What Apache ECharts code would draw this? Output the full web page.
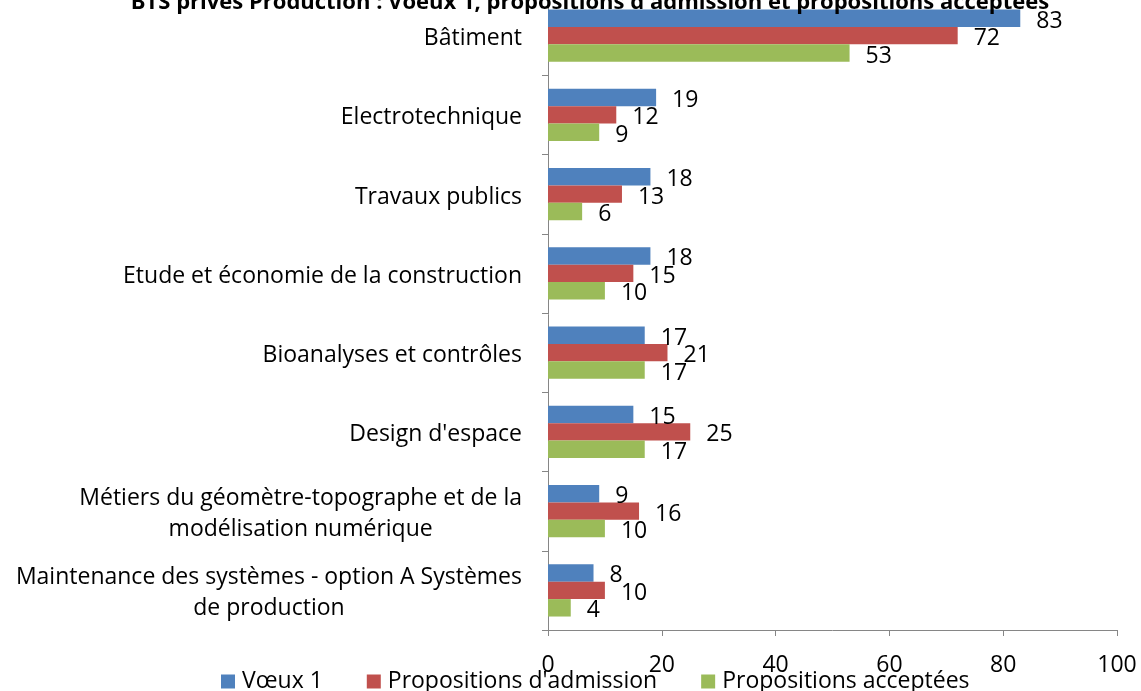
<!DOCTYPE html>
<html>
<head>
<meta charset="utf-8">
<script src="https://cdn.jsdelivr.net/npm/echarts@6/dist/echarts.min.js"></script>
<style>html,body{margin:0;padding:0;background:#fff;}#chart{width:1141px;height:691px;}</style>
</head>
<body>
<div id="chart"></div>
<script>
const titleText = "BTS privés Production : Voeux 1, propositions d'admission et propositions acceptées";
const categories = [
  "Bâtiment",
  "Electrotechnique",
  "Travaux publics",
  "Etude et économie de la construction",
  "Bioanalyses et contrôles",
  "Design d'espace",
  "Métiers du géomètre-topographe et de la\nmodélisation numérique",
  "Maintenance des systèmes - option A Systèmes\nde production"
];
const seriesNames = ["Vœux 1", "Propositions d'admission", "Propositions acceptées"];
const voeux1 = [83, 19, 18, 18, 17, 15, 9, 8];
const propositions = [72, 12, 13, 15, 21, 25, 16, 10];
const acceptees = [53, 9, 6, 10, 17, 17, 10, 4];
const xTicks = [0, 20, 40, 60, 80, 100];

const FONT = "Open Sans";
const FS = 23;
const colors = ["#4F81BD", "#C0504D", "#9BBB59"];
const dataSets = [voeux1, propositions, acceptees];

const chart = echarts.init(document.getElementById('chart'));
const labelStyle = {
  show: true, position: 'right', distance: 16, offset: [0, 3],
  color: '#000', fontFamily: FONT, fontSize: FS
};
chart.setOption({
  animation: false,
  backgroundColor: '#fff',
  title: {
    text: titleText, left: 585, top: -13, textAlign: 'center',
    textStyle: {fontFamily: FONT, fontWeight: 'bold', fontSize: 22, color: '#000'}
  },
  legend: {
    data: seriesNames, left: 216, top: 665, icon: 'rect',
    itemWidth: 14, itemHeight: 14, itemGap: 44,
    textStyle: {fontFamily: FONT, fontSize: FS, color: '#000', padding: [0, 0, 0, 2]}
  },
  grid: {left: 548, right: 24, top: -4, height: 634, containLabel: false, outerBoundsMode: 'none'},
  xAxis: {
    type: 'value', min: xTicks[0], max: xTicks[xTicks.length - 1], interval: 20,
    splitLine: {show: false},
    axisLine: {show: true, lineStyle: {color: '#868686', width: 1}},
    axisTick: {show: true, length: 6, lineStyle: {color: '#868686'}},
    axisLabel: {margin: 24, color: '#000', fontFamily: FONT, fontSize: FS}
  },
  yAxis: {
    type: 'category', data: categories, inverse: true,
    axisLine: {show: true, lineStyle: {color: '#868686', width: 1}},
    axisTick: {show: true, length: 6, lineStyle: {color: '#868686'}},
    axisLabel: {
      margin: 26, color: '#000', fontFamily: FONT, fontSize: FS, lineHeight: 31,
      padding: [6, 0, 0, 0],
      formatter: v => v.split('\n').map(l => '{c|' + l + '}').join('\n'),
      rich: {c: {align: 'center', fontFamily: FONT, fontSize: FS, lineHeight: 31, color: '#000'}}
    }
  },
  series: dataSets.map((d, i) => ({
    name: seriesNames[i], type: 'bar', data: d,
    barGap: '0%', barCategoryGap: '34%',
    itemStyle: {color: colors[i]},
    label: labelStyle
  }))
});
</script>
</body>
</html>
